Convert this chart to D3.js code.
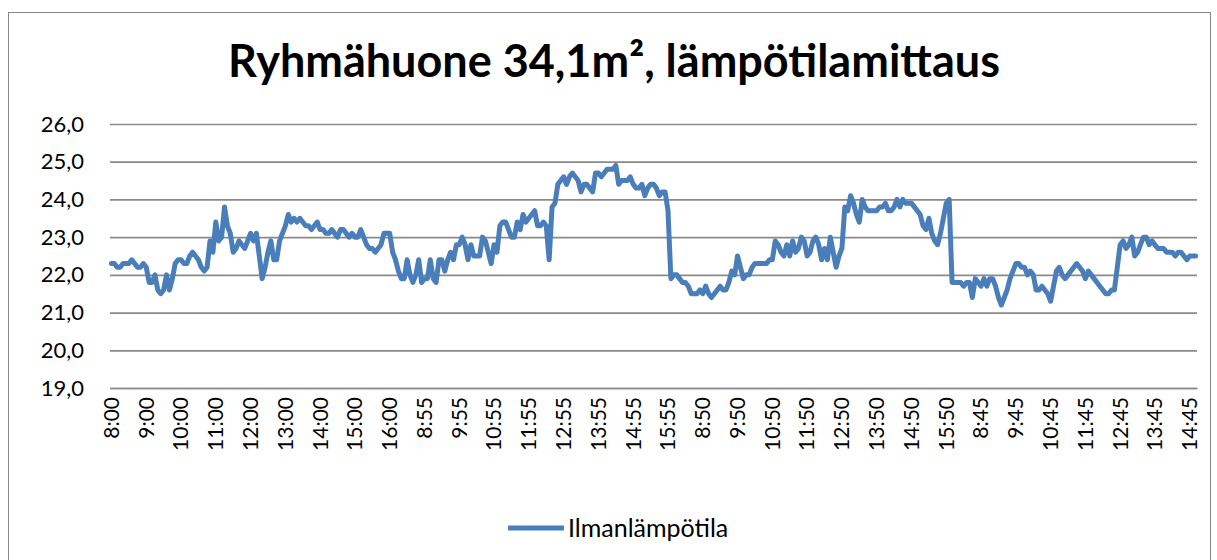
<!DOCTYPE html>
<meta charset="utf-8">
<style type="text/css">
html, body{
	padding: 0;
	margin: 0;
	background: white;
}
text {
	font-family: Lato, Carlito, "Open Sans", sans-serif;
	fill: black;
}
</style>

<svg width=1217 height=560></svg>

<script type="text/javascript" src="https://cdn.jsdelivr.net/npm/d3@7"></script>

<script type="text/javascript">
	// Ilmanlämpötila, 5 min välein, neljä päivää peräkkäin
	var temps = [
		22.3, 22.3, 22.2, 22.2, 22.3, 22.3, 22.3, 22.4, 22.3, 22.2,
		22.2, 22.3, 22.2, 21.8, 21.8, 22.0, 21.6, 21.5, 21.6, 22.0,
		21.6, 21.9, 22.3, 22.4, 22.4, 22.3, 22.3, 22.5, 22.6, 22.5,
		22.4, 22.2, 22.1, 22.2, 22.9, 22.6, 23.4, 22.9, 23.0, 23.8,
		23.3, 23.1, 22.6, 22.7, 22.9, 22.8, 22.7, 22.9, 23.1, 22.9,
		23.1, 22.5, 21.9, 22.2, 22.6, 22.9, 22.4, 22.4, 22.9, 23.1,
		23.3, 23.6, 23.4, 23.5, 23.4, 23.5, 23.4, 23.3, 23.3, 23.2,
		23.3, 23.4, 23.2, 23.2, 23.1, 23.1, 23.2, 23.1, 23.0, 23.2,
		23.2, 23.1, 23.0, 23.1, 23.0, 23.0, 23.2, 23.0, 22.8, 22.7,
		22.7, 22.6, 22.7, 22.8, 23.1, 23.1, 23.1, 22.6, 22.4, 22.1,
		21.9, 21.9, 22.4, 22.0, 21.8, 22.0, 22.4, 21.8, 21.9, 21.9,
		22.4, 21.9, 21.8, 22.4, 22.4, 22.1, 22.4, 22.6, 22.4, 22.8,
		22.8, 23.0, 22.8, 22.4, 22.8, 22.5, 22.5, 22.5, 23.0, 22.9,
		22.6, 22.3, 22.8, 22.6, 23.3, 23.4, 23.4, 23.2, 23.0, 23.0,
		23.4, 23.2, 23.6, 23.4, 23.5, 23.6, 23.7, 23.3, 23.3, 23.4,
		23.3, 22.4, 23.8, 23.9, 24.4, 24.5, 24.6, 24.4, 24.6, 24.7,
		24.6, 24.5, 24.2, 24.4, 24.4, 24.3, 24.2, 24.7, 24.7, 24.6,
		24.7, 24.8, 24.8, 24.8, 24.9, 24.4, 24.5, 24.5, 24.5, 24.6,
		24.4, 24.3, 24.3, 24.4, 24.1, 24.3, 24.4, 24.4, 24.3, 24.1,
		24.2, 24.2, 23.7, 21.9, 22.0, 22.0, 21.9, 21.8, 21.8, 21.7,
		21.5, 21.5, 21.5, 21.6, 21.5, 21.7, 21.5, 21.4, 21.5, 21.6,
		21.7, 21.6, 21.6, 21.8, 22.1, 22.0, 22.5, 22.2, 21.9, 22.0,
		22.0, 22.2, 22.3, 22.3, 22.3, 22.3, 22.3, 22.4, 22.4, 22.9,
		22.8, 22.6, 22.5, 22.8, 22.5, 22.9, 22.6, 22.7, 23.0, 22.9,
		22.5, 22.6, 22.9, 23.0, 22.8, 22.4, 22.7, 22.4, 23.0, 22.6,
		22.2, 22.5, 22.7, 23.8, 23.7, 24.1, 23.9, 23.6, 23.4, 24.0,
		23.8, 23.7, 23.7, 23.7, 23.7, 23.8, 23.8, 23.9, 23.7, 23.7,
		23.8, 24.0, 23.8, 24.0, 23.9, 23.9, 23.9, 23.8, 23.7, 23.6,
		23.3, 23.2, 23.5, 23.1, 22.9, 22.8, 23.1, 23.5, 23.9, 24.0,
		21.8, 21.8, 21.8, 21.8, 21.7, 21.8, 21.8, 21.4, 21.9, 21.8,
		21.7, 21.9, 21.7, 21.9, 21.9, 21.7, 21.4, 21.2, 21.4, 21.6,
		21.9, 22.1, 22.3, 22.3, 22.2, 22.2, 22.0, 22.1, 22.0, 21.6,
		21.6, 21.7, 21.6, 21.5, 21.3, 21.7, 22.1, 22.2, 22.0, 21.9,
		22.0, 22.1, 22.2, 22.3, 22.2, 22.1, 21.9, 22.1, 22.0, 21.9,
		21.8, 21.7, 21.6, 21.5, 21.5, 21.6, 21.6, 22.2, 22.8, 22.9,
		22.7, 22.8, 23.0, 22.5, 22.6, 22.8, 23.0, 23.0, 22.8, 22.9,
		22.8, 22.7, 22.7, 22.7, 22.6, 22.6, 22.6, 22.5, 22.6, 22.6,
		22.5, 22.4, 22.5, 22.5, 22.5
	];

	// joka 12. kategoria saa nimen
	var tickLabels = ['8:00','9:00','10:00','11:00','12:00','13:00','14:00','15:00','16:00',
		'8:55','9:55','10:55','11:55','12:55','13:55','14:55','15:55',
		'8:50','9:50','10:50','11:50','12:50','13:50','14:50','15:50',
		'8:45','9:45','10:45','11:45','12:45','13:45','14:45'];

	var yTicks = [19, 20, 21, 22, 23, 24, 25, 26];
	var seriesName = 'Ilmanlämpötila';
	var title = 'Ryhmähuone 34,1m², lämpötilamittaus';

	var svg = d3.select('svg');
	var pLeft = 110, pRight = 1197, pTop = 124, pBottom = 388;

	svg.append('rect')
		.attr('x', 8.5).attr('y', 12.5)
		.attr('width', 1202).attr('height', 600)
		.style('fill', 'white').style('stroke', '#878787');

	var cats = temps.map((d,p)=>p);
	var x = d3.scaleBand().domain(cats).range([pLeft, pRight]).padding(0);
	var y = d3.scaleLinear().domain([19, 26]).range([pBottom, pTop]);
	var cx = i => x(i) + x.bandwidth()/2;

	// gridlines + y labels
	var yAxis = svg.append('g')
		.attr('transform', 'translate(' + pLeft + ',0)')
		.call(d3.axisLeft(y).tickValues(yTicks).tickSize(-(pRight-pLeft)).tickPadding(26)
			.tickFormat(d=>d.toFixed(1).replace('.', ',')));
	yAxis.select('.domain').remove();
	yAxis.selectAll('line').style('stroke', '#8a8a8a').style('stroke-width', 1.7);
	yAxis.selectAll('text').style('font-size', '22px').style('font-family', null);

	var xAxis = svg.append('g')
		.attr('transform', 'translate(0,' + pBottom + ')')
		.call(d3.axisBottom(x).tickValues(cats.filter(i=>i%12==0)).tickSize(0)
			.tickFormat(i=>tickLabels[i/12]));
	xAxis.select('.domain').style('stroke', '#8a8a8a').style('stroke-width', 1.7);
	xAxis.selectAll('text')
		.style('font-size', '21px').style('font-family', null)
		.attr('text-anchor', 'end')
		.attr('transform', 'rotate(-90)')
		.attr('x', -9).attr('y', 0).attr('dy', '0.35em');

	var line = d3.line().x((d,p)=>cx(p)).y(d=>y(d));
	svg.append('path')
		.datum(temps)
		.attr('d', line)
		.style('fill', 'none')
		.style('stroke', '#4a7ebb')
		.style('stroke-width', 5)
		.style('stroke-linejoin', 'round')
		.style('stroke-linecap', 'round');

	var t = svg.append('text')
		.attr('x', 614).attr('y', 77)
		.attr('text-anchor', 'middle')
		.style('font-weight', 'bold')
		.style('font-size', '44px')
		.text(title);
	var w = t.node().getComputedTextLength();
	t.style('font-size', (44 * 772 / w) + 'px');

	// legend
	svg.append('line')
		.attr('x1', 508).attr('x2', 564).attr('y1', 528).attr('y2', 528)
		.style('stroke', '#4a7ebb').style('stroke-width', 5);
	svg.append('text')
		.attr('x', 568).attr('y', 528).attr('dy', '0.35em')
		.style('font-size', '25px')
		.text(seriesName);
</script>
